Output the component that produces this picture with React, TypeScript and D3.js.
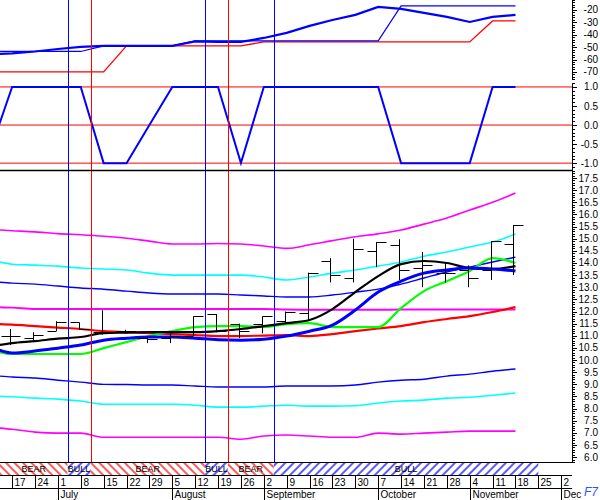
import React from "react";
import * as d3 from "d3";

// ---------- data ----------
const lineDates = [
  "2002-06-13", "2002-06-17", "2002-06-24", "2002-07-01", "2002-07-08", "2002-07-15",
  "2002-07-22", "2002-07-29", "2002-08-05", "2002-08-12", "2002-08-19", "2002-08-26",
  "2002-09-02", "2002-09-09", "2002-09-16", "2002-09-23", "2002-09-30", "2002-10-07",
  "2002-10-14", "2002-10-21", "2002-10-28", "2002-11-04", "2002-11-11", "2002-11-18",
];

// price panel envelopes
const upperMagenta = [15.36, 15.33, 15.28, 15.21, 15.16, 15.1, 15.02, 14.9, 14.78, 14.78, 14.8, 14.78, 14.7, 14.6, 14.75, 14.92, 15.08, 15.2, 15.36, 15.6, 15.85, 16.18, 16.5, 16.88];
const upperCyan = [14.04, 13.95, 13.91, 13.87, 13.79, 13.75, 13.71, 13.58, 13.5, 13.5, 13.5, 13.5, 13.42, 13.3, 13.42, 13.58, 13.71, 13.87, 14.04, 14.28, 14.45, 14.66, 14.86, 15.19];
const upperBlue = [13.21, 13.17, 13.13, 13.05, 12.97, 12.92, 12.84, 12.76, 12.72, 12.72, 12.72, 12.68, 12.64, 12.6, 12.6, 12.68, 12.8, 12.92, 13.13, 13.38, 13.63, 13.83, 14.04, 14.24];
const midMagenta = [12.18, 12.16, 12.1, 12.1, 12.1, 12.1, 12.1, 12.1, 12.1, 12.1, 12.1, 12.1, 12.1, 12.08, 12.07, 12.07, 12.07, 12.07, 12.08, 12.08, 12.08, 12.08, 12.08, 12.08];
const lowerBlue = [9.34, 9.3, 9.26, 9.17, 9.09, 9.0, 8.99, 8.97, 8.97, 8.93, 8.89, 8.89, 8.89, 8.93, 8.93, 8.93, 8.97, 9.09, 9.17, 9.21, 9.34, 9.42, 9.54, 9.63];
const lowerCyan = [8.51, 8.49, 8.43, 8.39, 8.31, 8.18, 8.18, 8.18, 8.18, 8.14, 8.06, 8.06, 8.1, 8.14, 8.1, 8.1, 8.12, 8.23, 8.31, 8.35, 8.43, 8.47, 8.55, 8.64];
const lowerMagenta = [7.2, 7.15, 7.03, 6.99, 6.99, 6.82, 6.82, 6.82, 6.82, 6.82, 6.82, 6.74, 6.87, 6.91, 6.87, 6.82, 6.82, 6.99, 6.95, 6.99, 7.03, 7.07, 7.07, 7.07];

// moving averages
const maRed = [11.48, 11.46, 11.4, 11.34, 11.28, 11.19, 11.15, 11.11, 11.07, 11.03, 10.99, 10.99, 11.01, 11.03, 10.99, 11.07, 11.19, 11.3, 11.4, 11.56, 11.69, 11.81, 11.98, 12.18];
const maBlack = [10.62, 10.7, 10.78, 10.88, 10.95, 11.11, 11.13, 11.15, 11.15, 11.15, 11.19, 11.28, 11.4, 11.52, 11.65, 12.1, 12.8, 13.46, 13.95, 14.08, 14.0, 13.79, 13.75, 13.87];
const maBlue = [10.41, 10.29, 10.37, 10.49, 10.62, 10.82, 10.9, 10.95, 10.95, 10.9, 10.84, 10.82, 10.86, 10.99, 11.19, 11.44, 12.06, 12.8, 13.25, 13.58, 13.71, 13.79, 13.75, 13.67];
const maGreen = [10.33, 10.25, 10.25, 10.25, 10.25, 10.49, 10.74, 10.99, 11.19, 11.36, 11.4, 11.4, 11.36, 11.48, 11.52, 11.36, 11.36, 11.36, 12.14, 12.84, 13.25, 13.67, 14.2, 14.0];

// weekly OHLC bars (Jun 17 .. Nov 18)
const barOpen = [11.0, 10.9, 11.2, 11.55, 11.15, 11.2, 10.9, 10.9, 11.0, 11.9, 11.5, 11.5, 11.6, 11.95, 14.1, 13.4, 14.5, 14.74, 13.8, 13.6, 13.7, 13.7, 14.8];
const barHigh = [11.28, 11.15, 11.6, 11.55, 12.05, 11.25, 10.95, 11.1, 11.8, 11.9, 11.5, 11.8, 12.0, 13.6, 14.2, 15.0, 14.86, 14.98, 14.45, 14.0, 13.9, 14.9, 15.56];
const barLow = [10.62, 10.8, 11.2, 11.25, 11.05, 11.1, 10.7, 10.7, 11.0, 11.15, 10.9, 11.1, 11.5, 11.6, 13.2, 13.2, 13.83, 13.3, 13.0, 13.2, 13.0, 13.3, 13.5];
const barClose = [11.0, 11.05, 11.55, 11.3, 11.1, 11.2, 10.85, 11.0, 11.8, 11.2, 11.2, 11.8, 12.0, 13.6, 13.5, 14.57, 14.86, 13.7, 13.9, 13.6, 13.4, 14.9, 15.56];

// top panel
const topThickBlue = [-55.5, -55.0, -53.5, -51.5, -49.8, -49.0, -49.0, -49.0, -49.0, -45.4, -45.8, -45.8, -42.6, -38.5, -32.9, -28.1, -24.0, -17.6, -19.2, -22.4, -25.6, -29.7, -25.6, -24.0];
const topThinBlue = [-53.5, -53.5, -53.5, -53.5, -53.5, -49.0, -49.0, -49.0, -49.0, -45.0, -45.0, -45.0, -45.0, -45.0, -45.0, -45.0, -45.0, -45.0, -16.8, -16.8, -16.8, -16.8, -16.8, -16.8];
const topRed = [-70, -70, -70, -70, -70, -70, -49, -49, -49, -49, -49, -49, -45.8, -45.8, -45.8, -45.8, -45.8, -45.8, -45.8, -45.8, -45.8, -45.8, -28.9, -28.9];

// oscillator panel
const oscValues = [0, 1, 1, 1, 1, -1, -1, 0, 1, 1, 1, -1, 1, 1, 1, 1, 1, 1, -1, -1, -1, -1, 1, 1];

// signals and regimes
const signalDates = ["2002-07-04", "2002-07-11", "2002-08-15", "2002-08-22", "2002-09-05"];
const signalColors = ["#0000ff", "#ff0000", "#0000ff", "#ff0000", "#0000ff"];
const regimeStarts = ["2002-06-12", "2002-07-04", "2002-07-11", "2002-08-15", "2002-08-22", "2002-09-05"];
const regimeEnds = ["2002-07-04", "2002-07-11", "2002-08-15", "2002-08-22", "2002-09-05", "2002-11-25"];
const regimeLabels = ["BEAR", "BULL", "BEAR", "BULL", "BEAR", "BULL"];

const topTickLabels = [-20, -30, -40, -50, -60, -70];
const oscTickLabels = [1.0, 0.5, 0.0, -0.5, -1.0];
const monthNames = ["January", "February", "March", "April", "May", "June", "July", "August", "September", "October", "November", "Dec"];

// ---------- component ----------
const FONT = "'Liberation Sans', Arial, sans-serif";
const PW = 572;

export default function App() {
  const parse = d3.timeParse("%Y-%m-%d");
  const dates = lineDates.map((s) => parse(s) as Date);
  const barDates = dates.slice(1);

  const x = d3.scaleTime().domain([new Date(2002, 5, 13, 7), new Date(2002, 11, 5, 7)]).range([0, PW]);
  const yTop = d3.scaleLinear().domain([-76.5, -12]).range([80, 0]);
  const yOsc = d3.scaleLinear().domain([-1.18, 1.13]).range([170, 82]);
  const yP = d3.scaleLinear().domain([5.8, 17.83]).range([462, 170]);

  const mk = (ys: d3.ScaleLinear<number, number>, vals: number[], curve = d3.curveLinear) =>
    d3.line<number>().x((_, i) => x(dates[i])).y((v) => ys(v)).curve(curve)(vals) || "";

  const priceLines: [number[], string, number][] = [
    [upperMagenta, "#ff00ff", 1.6],
    [upperCyan, "#00ffff", 1.6],
    [upperBlue, "#0000ff", 1.4],
    [midMagenta, "#ff00ff", 2],
    [lowerBlue, "#0000ff", 1.4],
    [lowerCyan, "#00ffff", 1.6],
    [lowerMagenta, "#ff00ff", 1.6],
    [maRed, "#ff0000", 2.2],
    [maGreen, "#00ff00", 2.2],
    [maBlack, "#000000", 2.2],
    [maBlue, "#0000ff", 3],
  ];

  const priceMinor = d3.range(58, 179).map((v) => v / 10);
  const priceMajor = d3.range(12, 36).map((v) => v / 2);
  const oscMinor = d3.range(-11, 12).map((v) => v / 10);
  const topMinor = d3.range(-76, -11, 2);

  const weekTicks = d3.timeMonday.range(new Date(2002, 5, 17), new Date(2002, 11, 3));
  const fmtDay = d3.timeFormat("%-d");

  const AX = PW;
  const labelX = 598;

  return (
    <svg width={600} height={500} style={{ position: "absolute", left: 0, top: 0, background: "#fff" }} fontFamily={FONT}>
      <defs>
        <clipPath id="plot">
          <rect x={0} y={0} width={PW} height={462} />
        </clipPath>
        <pattern id="bear" patternUnits="userSpaceOnUse" width={6} height={6} patternTransform="rotate(-45)">
          <rect width={6} height={6} fill="#fff" />
          <line x1={1} y1={0} x2={1} y2={6} stroke="#ff0000" strokeWidth={1.3} />
        </pattern>
        <pattern id="bull" patternUnits="userSpaceOnUse" width={6} height={6} patternTransform="rotate(45)">
          <rect width={6} height={6} fill="#fff" />
          <line x1={1} y1={0} x2={1} y2={6} stroke="#0000ff" strokeWidth={1.3} />
        </pattern>
      </defs>

      <g clipPath="url(#plot)">
        {[1, 0, -1].map((v) => (
          <line key={v} x1={0} x2={PW} y1={yOsc(v)} y2={yOsc(v)} stroke="#ff0000" strokeWidth={1} />
        ))}

        <path d={mk(yTop, topRed)} fill="none" stroke="#ff0000" strokeWidth={1.3} />
        <path d={mk(yTop, topThinBlue)} fill="none" stroke="#0000ff" strokeWidth={1.2} />
        <path d={mk(yTop, topThickBlue)} fill="none" stroke="#0000ff" strokeWidth={2.2} />

        <path d={mk(yOsc, oscValues)} fill="none" stroke="#0000ff" strokeWidth={2} />

        {priceLines.map(([vals, c, w], i) => (
          <path key={i} d={mk(yP, vals, d3.curveMonotoneX)} fill="none" stroke={c} strokeWidth={w} />
        ))}

        {barDates.map((d, i) => {
          const cx = Math.round(x(d)) - 1.5;
          const yo = Math.round(yP(barOpen[i])) + 0.5;
          const yc = Math.round(yP(barClose[i])) + 0.5;
          return (
            <g key={i} stroke="#000" strokeWidth={1}>
              <line x1={cx} x2={cx} y1={yP(barHigh[i])} y2={yP(barLow[i])} />
              <line x1={cx - 9} x2={cx} y1={yo} y2={yo} />
              <line x1={cx} x2={cx + 10} y1={yc} y2={yc} />
            </g>
          );
        })}

        {signalDates.map((s, i) => {
          const sx = Math.round(x(parse(s) as Date)) + 0.5;
          return <line key={s} x1={sx} x2={sx} y1={0} y2={462} stroke={signalColors[i]} strokeWidth={1} />;
        })}
      </g>

      <line x1={0} x2={AX} y1={170.5} y2={170.5} stroke="#000" strokeWidth={1.5} />
      <line x1={0} x2={AX} y1={462.5} y2={462.5} stroke="#000" strokeWidth={1} />

      <g stroke="#000" strokeWidth={1}>
        <line x1={AX + 0.5} x2={AX + 0.5} y1={0} y2={80} />
        <line x1={AX + 0.5} x2={AX + 0.5} y1={83} y2={463} />
        {topMinor.map((v) => (
          <line key={"tm" + v} x1={AX} x2={AX + (v % 10 === 0 ? 5 : 3)} y1={Math.round(yTop(v)) + 0.5} y2={Math.round(yTop(v)) + 0.5} />
        ))}
        {oscMinor.map((v) => (
          <line key={"om" + v} x1={AX} x2={AX + (Math.abs(Math.round(v * 10)) % 5 === 0 ? 5 : 3)} y1={Math.round(yOsc(v)) + 0.5} y2={Math.round(yOsc(v)) + 0.5} />
        ))}
        {priceMinor.map((v) => (
          <line key={"pm" + v} x1={AX} x2={AX + (Math.round(v * 10) % 5 === 0 ? 5 : 3)} y1={Math.round(yP(v)) + 0.5} y2={Math.round(yP(v)) + 0.5} />
        ))}
      </g>
      <g fontSize={10} textAnchor="end" fill="#000">
        {topTickLabels.map((v) => (
          <text key={"tl" + v} x={labelX} y={yTop(v)} dy="0.35em">{String(v)}</text>
        ))}
        {oscTickLabels.map((v) => (
          <text key={"ol" + v} x={labelX} y={yOsc(v)} dy="0.35em">{v.toFixed(1)}</text>
        ))}
        {priceMajor.map((v) => (
          <text key={"pl" + v} x={labelX} y={yP(v)} dy="0.35em">{v.toFixed(1)}</text>
        ))}
      </g>

      <g>
        {regimeStarts.map((s, i) => {
          const x0 = Math.max(0, x(parse(s) as Date));
          const x1 = x(parse(regimeEnds[i]) as Date);
          return (
            <g key={i}>
              <rect x={x0} y={463} width={x1 - x0} height={12} fill={regimeLabels[i] === "BEAR" ? "url(#bear)" : "url(#bull)"} />
              <text x={(x0 + x1) / 2} y={472} textAnchor="middle" fontSize={9} fill="#000">{regimeLabels[i]}</text>
            </g>
          );
        })}
        <line x1={0} x2={AX} y1={475.5} y2={475.5} stroke="#000" strokeWidth={1} />
      </g>

      <g>
        {weekTicks.map((t) => {
          const tx = Math.round(x(t)) + 0.5;
          const monthStart = t.getDate() <= 7;
          return (
            <g key={t.getTime()}>
              <line x1={tx} x2={tx} y1={476} y2={monthStart ? 500 : 488} stroke="#000" strokeWidth={1} />
              <text x={tx + 2} y={485.5} fontSize={10} fill="#000">{fmtDay(t)}</text>
              {monthStart && (
                <text x={tx + 2} y={497.5} fontSize={10} fill="#000">{monthNames[t.getMonth()]}</text>
              )}
            </g>
          );
        })}
        <line x1={0} x2={AX} y1={488.5} y2={488.5} stroke="#000" strokeWidth={1} />
      </g>

      <text x={584} y={496} fontSize={12} fontStyle="italic" fill="#3050ff">F7</text>
    </svg>
  );
}
